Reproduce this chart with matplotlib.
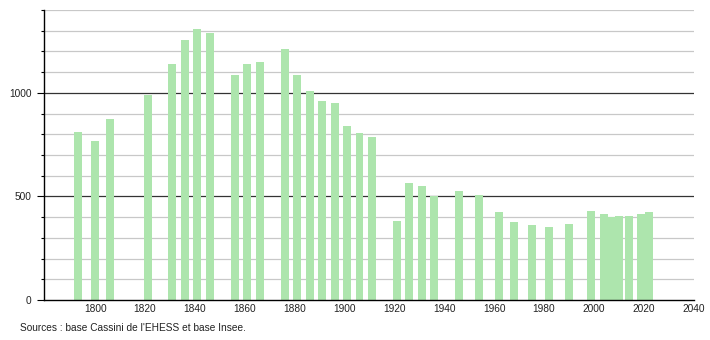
import matplotlib
matplotlib.use("Agg")
import matplotlib.pyplot as plt

years = [1793, 1800, 1806, 1821, 1831, 1836, 1841, 1846, 1856, 1861, 1866,
         1876, 1881, 1886, 1891, 1896, 1901, 1906, 1911, 1921, 1926, 1931,
         1936, 1946, 1954, 1962, 1968, 1975, 1982, 1990, 1999, 2004, 2007,
         2010, 2014, 2019, 2022]
population = [809, 769, 874, 992, 1137, 1253, 1306, 1287, 1088, 1137, 1147,
              1213, 1087, 1011, 963, 950, 842, 808, 785, 382, 564, 548,
              500, 526, 505, 426, 377, 364, 353, 369, 429, 413, 400,
              406, 406, 413, 424]
x_ticks = [1800, 1820, 1840, 1860, 1880, 1900, 1920, 1940, 1960, 1980, 2000, 2020, 2040]
y_labels = [0, 500, 1000]
source_text = "Sources : base Cassini de l'EHESS et base Insee."

plt.rcParams['font.family'] = ['Liberation Sans', 'DejaVu Sans']

fig = plt.figure(figsize=(7.1, 3.4), dpi=100)
ax = fig.add_axes([0.062, 0.1176, 0.915, 0.853])

ax.set_xlim(1779.5, 2040)
ax.set_ylim(0, 1400)

# grid lines
for v in range(100, 1401, 100):
    if v % 500 == 0:
        ax.axhline(v, color='#333333', lw=0.9, zorder=1)
    else:
        ax.axhline(v, color='#c8c8c8', lw=0.9, zorder=1)

ax.bar(years, population, width=3.2, color='#ade5ad', zorder=2, linewidth=0)

for s in ['top', 'right']:
    ax.spines[s].set_visible(False)
ax.spines['left'].set_color('black')
ax.spines['bottom'].set_color('black')
ax.spines['left'].set_linewidth(1.0)
ax.spines['bottom'].set_linewidth(1.0)

ax.set_xticks(x_ticks)
ax.set_xticklabels([str(t) for t in x_ticks], fontsize=7.3, color='#222222')
ax.tick_params(axis='x', length=0, pad=3)

ax.set_yticks(y_labels)
ax.set_yticklabels([str(t) for t in y_labels], fontsize=7.3, color='#222222')
ax.set_yticks(list(range(0, 1401, 100)), minor=True)
ax.tick_params(axis='y', which='major', length=5, width=0.8, pad=4)
ax.tick_params(axis='y', which='minor', length=2, width=0.8)

fig.text(0.028, 0.02, source_text, fontsize=7.3, color='#222222', ha='left', va='bottom')

fig.savefig("out.png", dpi=100)
